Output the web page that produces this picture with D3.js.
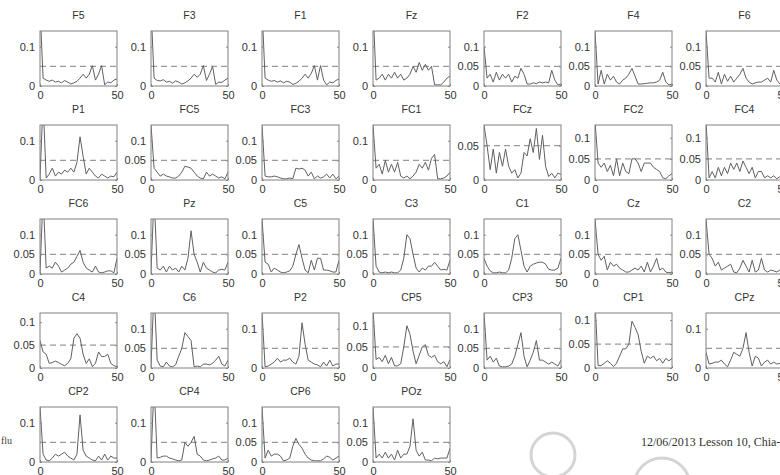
<!DOCTYPE html>
<html lang="en">
<head>
<meta charset="utf-8">
<title>EEG channel spectra</title>
<script src="https://d3js.org/d3.v7.min.js"></script>
<style>
body { margin: 0; background: #fff; }
text { font-family: Arial, "Liberation Sans", sans-serif; }
</style>
</head>
<body>
<div id="chart"></div>
<script>
var w = 780;
var h = 475;
var boxW = 77;
var boxH = 55;

// channel names, in grid order (7 per row)
var channels = ["F5", "F3", "F1", "Fz", "F2", "F4", "F6",
                "P1", "FC5", "FC3", "FC1", "FCz", "FC2", "FC4",
                "FC6", "Pz", "C5", "C3", "C1", "Cz", "C2",
                "C4", "C6", "P2", "CP5", "CP3", "CP1", "CPz",
                "CP2", "CP4", "CP6", "POz"];

// frequency axis 0..50, every 2
var freqs = d3.range(0, 51, 2);

// upper y limit of each panel
var yTop = [0.14, 0.14, 0.14, 0.14, 0.14, 0.14, 0.14,
            0.14, 0.14, 0.14, 0.14, 0.08, 0.13, 0.13,
            0.14, 0.14, 0.14, 0.14, 0.14, 0.14, 0.14,
            0.12, 0.14, 0.14, 0.13, 0.14, 0.115, 0.14,
            0.14, 0.14, 0.14, 0.14];

var ticksA = [0, 0.1];
var ticksB = [0, 0.05, 0.1];
var ticksC = [0, 0.05];
var yTicks = [ticksA, ticksA, ticksA, ticksA, ticksB, ticksB, ticksB,
              ticksA, ticksB, ticksB, ticksA, ticksC, ticksB, ticksB,
              ticksB, ticksB, ticksB, ticksB, ticksB, ticksB, ticksB,
              ticksB, ticksB, ticksA, ticksB, ticksB, ticksB, ticksA,
              ticksA, ticksA, ticksB, ticksB];

var threshold = 0.05;

var power = [
  [0.2, 0.02, 0.015, 0.012, 0.015, 0.01, 0.012, 0.008, 0.014, 0.01, 0.005, 0.008, 0.012, 0.02, 0.03, 0.02, 0.03, 0.052, 0.015, 0.03, 0.052, 0.003, 0.01, 0.008, 0.015, 0.018],
  [0.2, 0.02, 0.014, 0.013, 0.016, 0.01, 0.012, 0.007, 0.013, 0.01, 0.005, 0.008, 0.013, 0.02, 0.03, 0.022, 0.03, 0.052, 0.014, 0.03, 0.05, 0.004, 0.01, 0.009, 0.015, 0.02],
  [0.2, 0.02, 0.015, 0.012, 0.014, 0.01, 0.013, 0.008, 0.012, 0.01, 0.004, 0.007, 0.012, 0.02, 0.03, 0.02, 0.032, 0.052, 0.015, 0.052, 0.015, 0.003, 0.01, 0.008, 0.014, 0.018],
  [0.2, 0.015, 0.02, 0.03, 0.015, 0.03, 0.02, 0.035, 0.02, 0.03, 0.015, 0.02, 0.03, 0.05, 0.035, 0.06, 0.04, 0.055, 0.04, 0.05, 0.003, 0.003, 0.003, 0.01, 0.02, 0.025],
  [0.1, 0.02, 0.03, 0.01, 0.035, 0.015, 0.03, 0.02, 0.03, 0.01, 0.025, 0.02, 0.045, 0.03, 0.005, 0.005, 0.008, 0.006, 0.01, 0.008, 0.01, 0.008, 0.04, 0.015, 0.003, 0.005],
  [0.14, 0.005, 0.04, 0.005, 0.03, 0.015, 0.025, 0.01, 0.005, 0.015, 0.02, 0.03, 0.045, 0.025, 0.005, 0.005, 0.006, 0.007, 0.008, 0.008, 0.01, 0.015, 0.035, 0.01, 0.003, 0.005],
  [0.14, 0.02, 0.02, 0.01, 0.035, 0.005, 0.03, 0.012, 0.025, 0.01, 0.02, 0.03, 0.045, 0.02, 0.01, 0.005, 0.008, 0.01, 0.01, 0.015, 0.02, 0.01, 0.04, 0.015, 0.005, 0.01],

  [0.005, 0.2, 0.005, 0.015, 0.03, 0.01, 0.02, 0.015, 0.025, 0.02, 0.03, 0.02, 0.045, 0.11, 0.06, 0.015, 0.03, 0.02, 0.01, 0.005, 0.015, 0.01, 0.005, 0.01, 0.008, 0.02],
  [0.14, 0.03, 0.02, 0.01, 0.015, 0.01, 0.008, 0.005, 0.005, 0.01, 0.02, 0.035, 0.033, 0.03, 0.02, 0.01, 0.005, 0.003, 0.02, 0.01, 0.015, 0.01, 0.005, 0.008, 0.003, 0.02],
  [0.14, 0.01, 0.008, 0.008, 0.01, 0.008, 0.005, 0.003, 0.003, 0.005, 0.003, 0.03, 0.028, 0.03, 0.025, 0.01, 0.02, 0.003, 0.01, 0.005, 0.008, 0.015, 0.005, 0.015, 0.003, 0.01],
  [0.14, 0.03, 0.04, 0.015, 0.05, 0.02, 0.04, 0.02, 0.045, 0.01, 0.005, 0.01, 0.003, 0.01, 0.02, 0.04, 0.03, 0.045, 0.025, 0.055, 0.065, 0.003, 0.003, 0.005, 0.01, 0.02],
  [0.08, 0.05, 0.015, 0.045, 0.01, 0.04, 0.02, 0.045, 0.02, 0.01, 0.015, 0.003, 0.01, 0.04, 0.035, 0.06, 0.04, 0.075, 0.03, 0.065, 0.02, 0.005, 0.01, 0.003, 0.01, 0.008],
  [0.14, 0.04, 0.03, 0.04, 0.02, 0.035, 0.01, 0.05, 0.01, 0.04, 0.02, 0.015, 0.05, 0.05, 0.04, 0.02, 0.04, 0.04, 0.04, 0.03, 0.025, 0.02, 0.005, 0.003, 0.01, 0.015],
  [0.14, 0.005, 0.02, 0.005, 0.03, 0.01, 0.03, 0.015, 0.04, 0.025, 0.04, 0.02, 0.045, 0.03, 0.015, 0.03, 0.005, 0.02, 0.02, 0.005, 0.01, 0.005, 0.01, 0.003, 0.008, 0.01],

  [0.005, 0.2, 0.015, 0.02, 0.015, 0.03, 0.02, 0.005, 0.01, 0.015, 0.025, 0.03, 0.045, 0.06, 0.03, 0.015, 0.01, 0.005, 0.02, 0.005, 0.003, 0.005, 0.008, 0.008, 0.003, 0.04],
  [0.005, 0.2, 0.015, 0.01, 0.02, 0.005, 0.02, 0.01, 0.015, 0.005, 0.02, 0.01, 0.04, 0.11, 0.05, 0.03, 0.005, 0.03, 0.015, 0.01, 0.005, 0.003, 0.01, 0.012, 0.01, 0.03],
  [0.14, 0.03, 0.025, 0.005, 0.015, 0.01, 0.005, 0.003, 0.005, 0.008, 0.02, 0.05, 0.075, 0.04, 0.01, 0.003, 0.035, 0.01, 0.04, 0.04, 0.01, 0.01, 0.008, 0.005, 0.005, 0.035],
  [0.14, 0.02, 0.005, 0.003, 0.005, 0.003, 0.005, 0.003, 0.003, 0.01, 0.04, 0.1, 0.09, 0.05, 0.015, 0.005, 0.015, 0.01, 0.02, 0.02, 0.03, 0.02, 0.01, 0.012, 0.01, 0.035],
  [0.04, 0.02, 0.008, 0.003, 0.003, 0.005, 0.003, 0.003, 0.01, 0.04, 0.09, 0.1, 0.06, 0.02, 0.005, 0.02, 0.025, 0.028, 0.03, 0.03, 0.025, 0.012, 0.01, 0.01, 0.015, 0.04],
  [0.14, 0.05, 0.035, 0.045, 0.01, 0.03, 0.02, 0.025, 0.015, 0.01, 0.005, 0.005, 0.01, 0.015, 0.01, 0.02, 0.005, 0.03, 0.005, 0.02, 0.04, 0.01, 0.015, 0.005, 0.003, 0.005],
  [0.14, 0.05, 0.04, 0.02, 0.03, 0.01, 0.015, 0.02, 0.025, 0.005, 0.003, 0.015, 0.035, 0.02, 0.005, 0.035, 0.005, 0.01, 0.04, 0.01, 0.005, 0.01, 0.008, 0.005, 0.01, 0.01],

  [0.06, 0.035, 0.03, 0.01, 0.012, 0.015, 0.012, 0.008, 0.005, 0.01, 0.02, 0.065, 0.075, 0.065, 0.03, 0.01, 0.02, 0.003, 0.01, 0.035, 0.025, 0.025, 0.03, 0.01, 0.005, 0.003],
  [0.005, 0.2, 0.02, 0.005, 0.003, 0.015, 0.005, 0.003, 0.008, 0.03, 0.05, 0.09, 0.08, 0.07, 0.003, 0.005, 0.003, 0.01, 0.01, 0.008, 0.012, 0.02, 0.03, 0.01, 0.005, 0.02],
  [0.14, 0.003, 0.005, 0.01, 0.015, 0.025, 0.015, 0.02, 0.02, 0.025, 0.015, 0.01, 0.03, 0.115, 0.06, 0.02, 0.015, 0.01, 0.008, 0.003, 0.015, 0.005, 0.02, 0.005, 0.01, 0.01],
  [0.14, 0.02, 0.025, 0.015, 0.03, 0.01, 0.025, 0.005, 0.005, 0.01, 0.05, 0.1, 0.08, 0.04, 0.01, 0.03, 0.05, 0.055, 0.03, 0.025, 0.03, 0.015, 0.01, 0.015, 0.003, 0.02],
  [0.14, 0.02, 0.03, 0.015, 0.025, 0.005, 0.003, 0.003, 0.005, 0.01, 0.03, 0.06, 0.09, 0.03, 0.003, 0.02, 0.04, 0.07, 0.02, 0.02, 0.015, 0.01, 0.015, 0.01, 0.005, 0.02],
  [0.14, 0.005, 0.005, 0.01, 0.015, 0.01, 0.003, 0.01, 0.025, 0.04, 0.04, 0.05, 0.098, 0.085, 0.07, 0.035, 0.01, 0.025, 0.02, 0.025, 0.015, 0.02, 0.01, 0.02, 0.015, 0.02],
  [0.04, 0.01, 0.012, 0.015, 0.015, 0.02, 0.01, 0.003, 0.02, 0.04, 0.035, 0.03, 0.05, 0.09, 0.04, 0.005, 0.03, 0.025, 0.005, 0.015, 0.02, 0.01, 0.015, 0.01, 0.012, 0.015],

  [0.14, 0.02, 0.005, 0.003, 0.01, 0.02, 0.015, 0.02, 0.025, 0.015, 0.01, 0.005, 0.02, 0.12, 0.03, 0.015, 0.01, 0.005, 0.003, 0.015, 0.005, 0.02, 0.005, 0.015, 0.01, 0.01],
  [0.005, 0.2, 0.01, 0.012, 0.015, 0.015, 0.01, 0.008, 0.005, 0.003, 0.005, 0.05, 0.04, 0.05, 0.065, 0.02, 0.015, 0.005, 0.003, 0.005, 0.008, 0.01, 0.015, 0.005, 0.005, 0.01],
  [0.14, 0.01, 0.03, 0.015, 0.02, 0.02, 0.015, 0.003, 0.005, 0.01, 0.04, 0.06, 0.045, 0.035, 0.02, 0.01, 0.005, 0.003, 0.003, 0.003, 0.008, 0.015, 0.012, 0.005, 0.01, 0.015],
  [0.14, 0.01, 0.02, 0.01, 0.025, 0.01, 0.02, 0.005, 0.03, 0.01, 0.02, 0.02, 0.04, 0.11, 0.03, 0.015, 0.025, 0.005, 0.005, 0.003, 0.01, 0.008, 0.01, 0.01, 0.01, 0.035]
];

var svg = d3.select("#chart")
  .append("svg")
  .attr("width", w)
  .attr("height", h);

svg.append("rect").attr("width", w).attr("height", h).attr("fill", "#fff");

// grid placement of the panels
var colX = d3.scaleLinear().domain([0, 6]).range([40, 706]);
var rowY = d3.scaleLinear().domain([0, 4]).range([31, 407]);

var xScale = d3.scaleLinear().domain([0, 50]).range([0, boxW]);
var fmt = d3.format("~g");

channels.forEach(function(name, i){
  var g = svg.append("g")
    .attr("transform", "translate(" + colX(i % 7) + "," + rowY(Math.floor(i / 7)) + ")");
  var yScale = d3.scaleLinear().domain([0, yTop[i]]).range([boxH, 0]);

  g.append("clipPath").attr("id", "clip" + i)
    .append("rect").attr("width", boxW).attr("height", boxH);

  // threshold line
  g.append("line")
    .attr("x1", 0).attr("x2", boxW)
    .attr("y1", yScale(threshold)).attr("y2", yScale(threshold))
    .attr("stroke", "#9a9a9a")
    .attr("stroke-width", 1.2)
    .attr("stroke-dasharray", "6,4");

  var line = d3.line()
    .x(function(d, j){ return xScale(freqs[j]); })
    .y(function(d){ return yScale(d); });

  g.append("path")
    .datum(power[i])
    .attr("d", line)
    .attr("clip-path", "url(#clip" + i + ")")
    .attr("fill", "none")
    .attr("stroke", "#606060")
    .attr("stroke-width", 1);

  // axes
  var yl = g.append("g")
    .call(d3.axisLeft(yScale).tickValues(yTicks[i]).tickFormat(fmt)
      .tickSizeInner(-2).tickSizeOuter(0).tickPadding(5));
  var yr = g.append("g")
    .attr("transform", "translate(" + boxW + ",0)")
    .call(d3.axisRight(yScale).tickValues(yTicks[i]).tickFormat("")
      .tickSizeInner(-2).tickSizeOuter(0));
  var xb = g.append("g")
    .attr("transform", "translate(0," + boxH + ")")
    .call(d3.axisBottom(xScale).tickValues([0, 50]).tickFormat(fmt)
      .tickSizeInner(-2).tickSizeOuter(0).tickPadding(5));
  [yl, yr, xb].forEach(function(a){
    a.select(".domain").remove();
    a.selectAll("line").attr("stroke", "#888");
    a.selectAll("text").attr("fill", "#333").style("font-size", "11px")
      .style("font-family", "Arial, 'Liberation Sans', sans-serif");
  });

  g.append("rect")
    .attr("width", boxW).attr("height", boxH)
    .attr("fill", "none")
    .attr("stroke", "#808080")
    .attr("stroke-width", 1);

  g.append("text")
    .attr("x", boxW / 2).attr("y", -12)
    .attr("text-anchor", "middle")
    .attr("fill", "#333")
    .style("font-size", "10.5px")
    .text(name);
});

// slide leftovers
svg.append("text").attr("x", 1).attr("y", 444)
  .attr("fill", "#444").style("font-family", "'Liberation Serif', serif").style("font-size", "10px")
  .text("flu");
svg.append("text").attr("x", 641).attr("y", 446)
  .attr("fill", "#333").style("font-family", "'Liberation Serif', serif").style("font-size", "12px")
  .text("12/06/2013 Lesson 10, Chia-");

var bubbles = svg.append("g").attr("fill", "none").attr("stroke", "#d4d4d4");
bubbles.append("circle").attr("cx", 553).attr("cy", 455).attr("r", 22).attr("stroke-width", 3);
bubbles.append("circle").attr("cx", 662).attr("cy", 486).attr("r", 28).attr("stroke-width", 3);
</script>
</body>
</html>
